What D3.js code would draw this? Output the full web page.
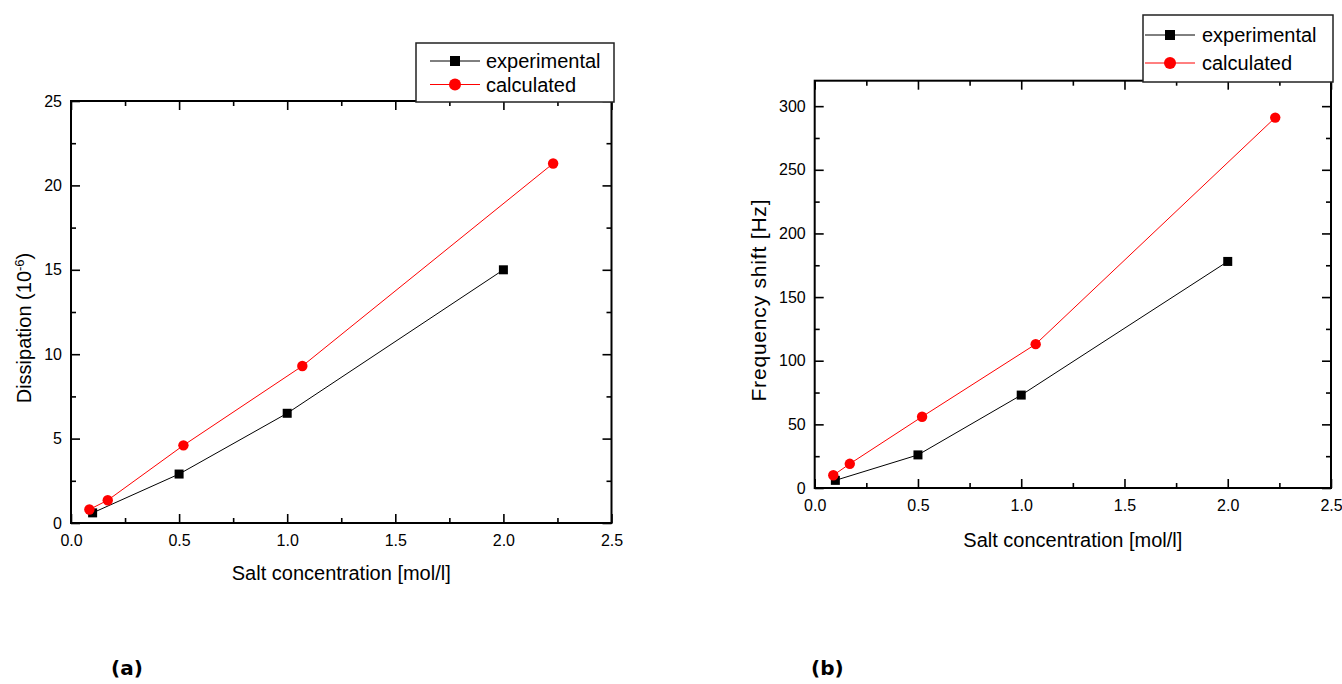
<!DOCTYPE html>
<html>
<head>
<meta charset="utf-8">
<script src="https://cdn.jsdelivr.net/npm/d3@7"></script>
<style>
  html, body { margin: 0; padding: 0; background: #fff; }
  svg { display: block; font-family: "Liberation Sans", Arial, sans-serif; }
</style>
</head>
<body>
<svg id="chart" width="1342" height="684"></svg>
<script>
// ---------- data ----------
const xMajorTicks = [0.0, 0.5, 1.0, 1.5, 2.0, 2.5];
const xMinorTicks = [0.25, 0.75, 1.25, 1.75, 2.25];
const xTitle = "Salt concentration [mol/l]";
const seriesNames = ["experimental", "calculated"];

// panel (a) – dissipation
const aExpX  = [0.10, 0.50, 1.00, 2.00];
const aExpY  = [0.6, 2.9, 6.5, 15.0];
const aCalcX = [0.085, 0.17, 0.52, 1.07, 2.23];
const aCalcY = [0.8, 1.35, 4.6, 9.3, 21.3];
const aYMajor = [0, 5, 10, 15, 20, 25];
const aYMinor = [2.5, 7.5, 12.5, 17.5, 22.5];

// panel (b) – frequency shift
const bExpX  = [0.10, 0.50, 1.00, 2.00];
const bExpY  = [6, 26, 73, 178];
const bCalcX = [0.09, 0.17, 0.52, 1.07, 2.23];
const bCalcY = [10, 19, 56, 113, 291];
const bYMajor = [0, 50, 100, 150, 200, 250, 300];
const bYMinor = [25, 75, 125, 175, 225, 275];

const svg = d3.select("#chart");

function drawPanel(cfg) {
  const x = d3.scaleLinear().domain([0, 2.5]).range([cfg.left, cfg.right]);
  const y = d3.scaleLinear().domain(cfg.yDomain).range([cfg.bottom, cfg.top]);
  const g = svg.append("g");

  // axes: bottom / left with labels, top / right mirrored without labels
  const styleAxis = sel => {
    sel.select(".domain").remove();
    sel.selectAll(".tick line").attr("stroke", "#000").attr("stroke-width", 1.6);
    sel.selectAll(".tick text").attr("fill", "#000")
      .style("font-family", '"Liberation Sans", Arial, sans-serif').style("font-size", "16px");
  };

  g.append("g").attr("transform", `translate(0,${cfg.bottom})`)
    .call(d3.axisBottom(x).tickValues(xMajorTicks).tickSize(-9).tickPadding(12).tickFormat(d3.format(".1f")))
    .call(styleAxis);
  g.append("g").attr("transform", `translate(0,${cfg.bottom})`)
    .call(d3.axisBottom(x).tickValues(xMinorTicks).tickSize(-5).tickFormat(""))
    .call(styleAxis);
  g.append("g").attr("transform", `translate(0,${cfg.top})`)
    .call(d3.axisTop(x).tickValues(xMajorTicks).tickSize(-9).tickFormat(""))
    .call(styleAxis);
  g.append("g").attr("transform", `translate(0,${cfg.top})`)
    .call(d3.axisTop(x).tickValues(xMinorTicks).tickSize(-5).tickFormat(""))
    .call(styleAxis);

  g.append("g").attr("transform", `translate(${cfg.left},0)`)
    .call(d3.axisLeft(y).tickValues(cfg.yMajor).tickSize(-9).tickPadding(9).tickFormat(d3.format("d")))
    .call(styleAxis);
  g.append("g").attr("transform", `translate(${cfg.left},0)`)
    .call(d3.axisLeft(y).tickValues(cfg.yMinor).tickSize(-5).tickFormat(""))
    .call(styleAxis);
  g.append("g").attr("transform", `translate(${cfg.right},0)`)
    .call(d3.axisRight(y).tickValues(cfg.yMajor).tickSize(-9).tickFormat(""))
    .call(styleAxis);
  g.append("g").attr("transform", `translate(${cfg.right},0)`)
    .call(d3.axisRight(y).tickValues(cfg.yMinor).tickSize(-5).tickFormat(""))
    .call(styleAxis);

  // frame
  g.append("rect")
    .attr("x", cfg.left).attr("y", cfg.top)
    .attr("width", cfg.right - cfg.left).attr("height", cfg.bottom - cfg.top)
    .attr("fill", "none").attr("stroke", "#000").attr("stroke-width", 2);

  // series
  const line = d3.line().x(d => x(d[0])).y(d => y(d[1]));
  const exp = cfg.expX.map((v, i) => [v, cfg.expY[i]]);
  const calc = cfg.calcX.map((v, i) => [v, cfg.calcY[i]]);

  g.append("path").datum(exp).attr("d", line)
    .attr("fill", "none").attr("stroke", "#000").attr("stroke-width", 1);
  g.append("path").datum(calc).attr("d", line)
    .attr("fill", "none").attr("stroke", "#ff0000").attr("stroke-width", 1);

  g.selectAll(".sq").data(exp).enter().append("rect")
    .attr("x", d => x(d[0]) - 4.5).attr("y", d => y(d[1]) - 4.5)
    .attr("width", 9).attr("height", 9).attr("fill", "#000");
  g.selectAll(".ci").data(calc).enter().append("circle")
    .attr("cx", d => x(d[0])).attr("cy", d => y(d[1])).attr("r", 5.2)
    .attr("fill", "#ff0000");

  // axis titles
  g.append("text")
    .attr("x", (cfg.left + cfg.right) / 2).attr("y", cfg.xTitleY)
    .attr("text-anchor", "middle").style("font-size", "20px").attr("fill", "#000")
    .text(xTitle);

  const yt = g.append("text")
    .attr("transform", `translate(${cfg.yTitleX},${cfg.yTitleY}) rotate(-90)`)
    .attr("text-anchor", "middle").style("font-size", "20px").attr("fill", "#000");
  cfg.yTitle(yt);

  // legend
  const L = cfg.legend;
  g.append("rect")
    .attr("x", L.x0).attr("y", L.y0).attr("width", L.x1 - L.x0).attr("height", L.y1 - L.y0)
    .attr("fill", "#fff").attr("stroke", "#222").attr("stroke-width", 1.5);
  const rows = [
    { name: seriesNames[0], color: "#000", y: L.r1, shape: "square" },
    { name: seriesNames[1], color: "#ff0000", y: L.r2, shape: "circle" }
  ];
  rows.forEach(r => {
    g.append("line").attr("x1", L.lx0).attr("x2", L.lx1).attr("y1", r.y).attr("y2", r.y)
      .attr("stroke", r.color).attr("stroke-width", 1);
    const mx = (L.lx0 + L.lx1) / 2;
    if (r.shape === "square") {
      g.append("rect").attr("x", mx - 5).attr("y", r.y - 5).attr("width", 10).attr("height", 10).attr("fill", r.color);
    } else {
      g.append("circle").attr("cx", mx).attr("cy", r.y).attr("r", 6).attr("fill", r.color);
    }
    g.append("text").attr("x", L.tx).attr("y", r.y).attr("dy", "0.35em")
      .style("font-size", "20px").attr("fill", "#000").text(r.name);
  });

  // panel label
  g.append("text").attr("x", cfg.labelX).attr("y", 675)
    .style("font-family", '"DejaVu Sans", sans-serif').style("font-weight", "bold")
    .style("font-size", "20px").attr("fill", "#000").text(cfg.label);
}

drawPanel({
  left: 71, right: 611.5, top: 101, bottom: 523,
  yDomain: [0, 25], yMajor: aYMajor, yMinor: aYMinor,
  expX: aExpX, expY: aExpY, calcX: aCalcX, calcY: aCalcY,
  xTitleY: 580, yTitleX: 31, yTitleY: 328,
  yTitle: t => {
    t.append("tspan").text("Dissipation (10");
    t.append("tspan").attr("dy", "-7").style("font-size", "13px").text("-6");
    t.append("tspan").attr("dy", "7").text(")");
  },
  legend: { x0: 416, x1: 614, y0: 43, y1: 102, lx0: 430, lx1: 480, tx: 486, r1: 61, r2: 84.5 },
  label: "(a)", labelX: 111
});

drawPanel({
  left: 814.7, right: 1331, top: 80.7, bottom: 488,
  yDomain: [0, 320], yMajor: bYMajor, yMinor: bYMinor,
  expX: bExpX, expY: bExpY, calcX: bCalcX, calcY: bCalcY,
  xTitleY: 547, yTitleX: 766, yTitleY: 300.5,
  yTitle: t => {
    t.style("font-size", "21px").attr("textLength", 202).attr("lengthAdjust", "spacing")
      .text("Frequency shift [Hz]");
  },
  legend: { x0: 1143, x1: 1333, y0: 15, y1: 82, lx0: 1145, lx1: 1195, tx: 1202, r1: 35, r2: 63 },
  label: "(b)", labelX: 811
});
</script>
</body>
</html>
